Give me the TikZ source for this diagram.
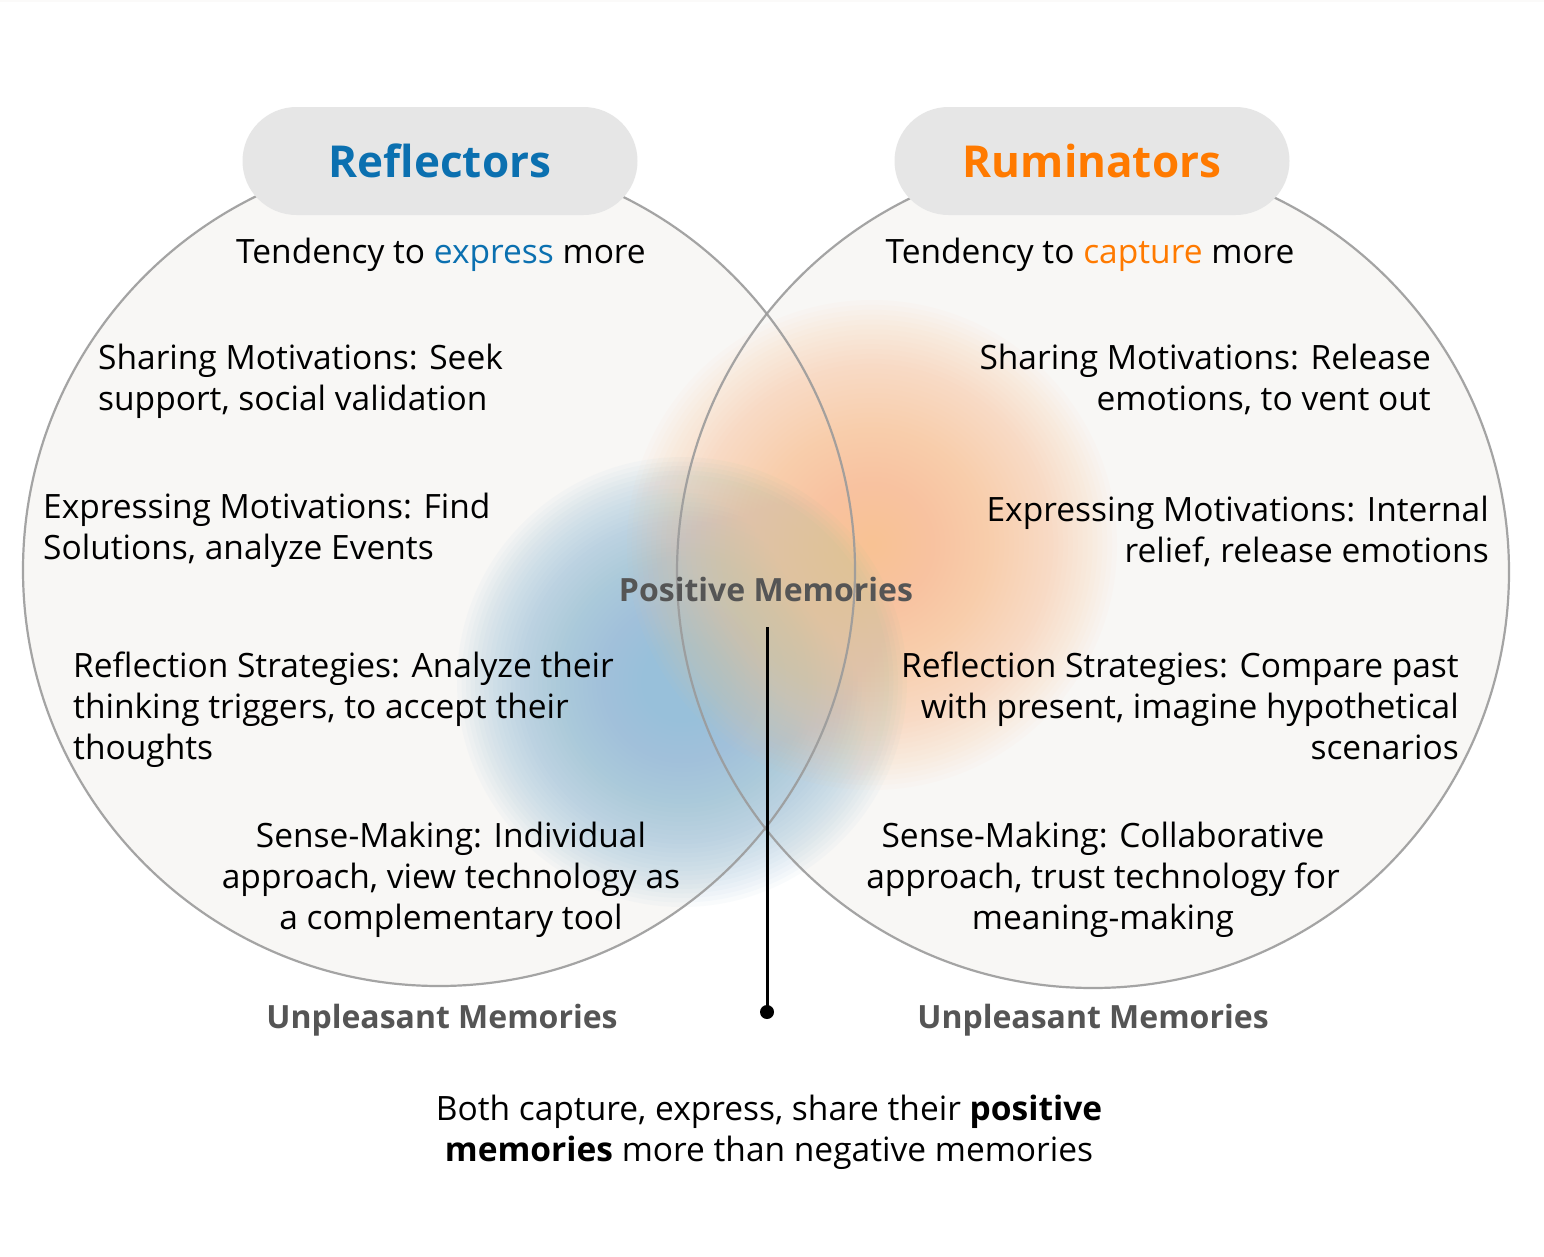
\documentclass[tikz,border=0pt]{standalone}
\usepackage{fontspec}
\setmainfont{Open Sans}
\definecolor{refblue}{HTML}{0B70B0}
\definecolor{rumorange}{HTML}{FF7A00}
\definecolor{pillgray}{HTML}{E6E6E6}
\definecolor{circfill}{HTML}{F8F7F5}
\definecolor{circline}{HTML}{9B9B9B}
\definecolor{labgray}{HTML}{555555}
\definecolor{blobblue}{HTML}{98C0DA}
\definecolor{bloborange}{HTML}{F8C292}
\tikzset{
  venn/.style={fill=circfill},
  vennline/.style={draw=circline, line width=2.2pt, draw opacity=0.9},
  pill/.style={fill=pillgray, rounded corners=54pt, minimum width=395pt, minimum height=108pt, inner sep=0pt},
  title/.style={font=\fontsize{44}{48}\selectfont\bfseries},
  body/.style={font=\fontsize{33.5}{41}\selectfont, inner sep=0pt, text=black},
  memlabel/.style={font=\fontsize{32}{36}\selectfont\bfseries, text=labgray, inner sep=0pt},
  bluelayer/.style={fill=blobblue, opacity=0.055},
  orangelayer/.style={fill=bloborange, opacity=0.04},
}
\begin{document}
\begin{tikzpicture}[x=1pt,y=-1pt]
\useasboundingbox (0,0) rectangle (1544,1256);
\fill[white] (0,0) rectangle (1544,1256);
\fill[circfill!60!white] (0,0) rectangle (1544,2);
% circles
\fill[venn] (439,570) circle (416);
\fill[venn] (1093,572) circle (416);
% blobs
\foreach \i in {1,...,50} {
  \fill[bluelayer] (682,682) circle ({225*\i/50});
}
\foreach \i in {1,...,50} {
  \fill[orangelayer] (872,545) circle ({245*\i/50});
}
% outlines
\draw[vennline] (439,570) circle (416);
\draw[vennline] (1093,572) circle (416);
% pills
\node[pill] (lpill) at (440,161) {};
\node[pill] (rpill) at (1092,161) {};
\node[title, text=refblue] (ltitle) at (440,161) {Reflectors};
\node[title, text=rumorange] (rtitle) at (1092,161) {Ruminators};
% left texts
\node[body, anchor=base] (lt) at (441,263) {Tendency to \textcolor{refblue}{express} more};
\node[body, anchor=base west, align=left] (l1) at (98,410) {Sharing Motivations: Seek\\support, social validation};
\node[body, anchor=base west, align=left] (l2) at (43,559) {Expressing Motivations: Find\\Solutions, analyze Events};
\node[body, anchor=base west, align=left] (l3) at (73,759) {Reflection Strategies: Analyze their\\thinking triggers, to accept their\\thoughts};
\node[body, anchor=base, align=center] (l4) at (451,929) {Sense-Making: Individual\\approach, view technology as\\a complementary tool};
% right texts
\node[body, anchor=base] (rt) at (1090,263) {Tendency to \textcolor{rumorange}{capture} more};
\node[body, anchor=base east, align=right] (r1) at (1431,410) {Sharing Motivations: Release\\emotions, to vent out};
\node[body, anchor=base east, align=right] (r2) at (1489,562) {Expressing Motivations: Internal\\relief, release emotions};
\node[body, anchor=base east, align=right] (r3) at (1459,759) {Reflection Strategies: Compare past\\with present, imagine hypothetical\\scenarios};
\node[body, anchor=base, align=center] (r4) at (1103,929) {Sense-Making: Collaborative\\approach, trust technology for\\meaning-making};
% memory labels
\node[memlabel] (pos) at (766,589) {Positive Memories};
\node[memlabel] (unl) at (442,1020) {Unpleasant Memories};
\node[memlabel] (unr) at (1093,1020) {Unpleasant Memories};
% connector
\coordinate (ltop) at (767,627);
\node[circle, fill=black, inner sep=0pt, minimum size=14pt] (dot) at (767,1012) {};
\draw[line width=3pt] (ltop) -- (dot.center);
% bottom note
\node[body, anchor=base, align=center] (note) at (769,1161) {Both capture, express, share their \textbf{positive}\\\textbf{memories} more than negative memories};
\end{tikzpicture}
\end{document}
